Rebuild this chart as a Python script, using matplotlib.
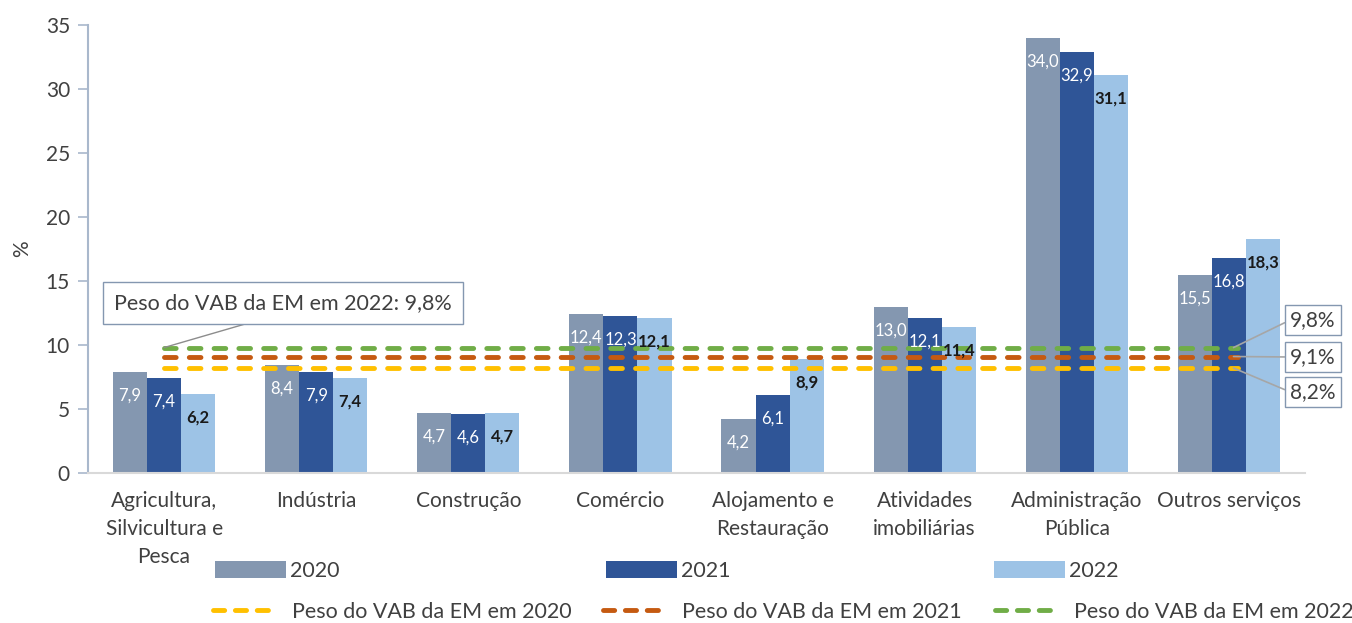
import matplotlib
matplotlib.use("Agg")
import matplotlib.pyplot as plt
from matplotlib.patches import Patch
from matplotlib.lines import Line2D
import numpy as np

plt.rcParams['font.family'] = ['Lato', 'DejaVu Sans']

categories = ["Agricultura,\nSilvicultura e\nPesca", "Indústria", "Construção", "Comércio",
              "Alojamento e\nRestauração", "Atividades\nimobiliárias", "Administração\nPública",
              "Outros serviços"]
v2020 = [7.9, 8.4, 4.7, 12.4, 4.2, 13.0, 34.0, 15.5]
v2021 = [7.4, 7.9, 4.6, 12.3, 6.1, 12.1, 32.9, 16.8]
v2022 = [6.2, 7.4, 4.7, 12.1, 8.9, 11.4, 31.1, 18.3]
series_labels = ["2020", "2021", "2022"]
peso = [8.2, 9.1, 9.8]
peso_labels = ["Peso do VAB da EM em 2020", "Peso do VAB da EM em 2021", "Peso do VAB da EM em 2022"]

bar_colors = ["#8497B0", "#2F5597", "#9DC3E6"]
label_colors = ["white", "white", "#1a1a1a"]
label_weights = ["normal", "normal", "bold"]
line_colors = ["#FFC000", "#C55A11", "#70AD47"]

W, H = 1352, 623
fig = plt.figure(figsize=(W / 100, H / 100), dpi=100)
ax = fig.add_axes([88 / W, 1 - 473 / H, (1305 - 88) / W, (473 - 25) / H])

x = np.arange(len(categories))
bw = 0.224
for i, (vals, c) in enumerate(zip([v2020, v2021, v2022], bar_colors)):
    xs = x + (i - 1) * bw
    ax.bar(xs, vals, width=bw, color=c, edgecolor='none', zorder=2)
    for xi, v in zip(xs, vals):
        ax.annotate(f"{v:.1f}".replace('.', ','), (xi, v), xytext=(0, -17),
                    textcoords='offset points', ha='center', va='center',
                    fontsize=12, color=label_colors[i], fontweight=label_weights[i], zorder=5)

for p, c in zip(peso, line_colors):
    ax.plot([x[0], x[-1] + 0.06], [p, p], color=c, lw=3.5, dashes=[2.4, 2.7],
            dash_capstyle='round', zorder=4)

ax.set_xlim(-0.5, len(categories) - 0.5)
ax.set_ylim(0, 35)
ax.set_yticks(range(0, 36, 5))
ax.set_xticks(x)
ax.set_xticklabels(categories, fontsize=15, color='#404040', linespacing=1.5)
ax.tick_params(axis='x', length=0, pad=13)
ax.tick_params(axis='y', length=7, width=1.2, color='#A9B8CC', labelsize=15,
               labelcolor='#404040', pad=6)
for s in ['top', 'right']:
    ax.spines[s].set_visible(False)
ax.spines['left'].set_color('#A9B8CC')
ax.spines['left'].set_linewidth(1.5)
ax.spines['bottom'].set_color('#D9D9D9')
ax.spines['bottom'].set_linewidth(1.5)
ax.set_ylabel('%', fontsize=15, color='#404040', labelpad=10)

# callout left
ax.annotate("Peso do VAB da EM em 2022: 9,8%", xy=(x[0], peso[2]),
            xytext=(283 / W, 1 - 303 / H), textcoords='figure fraction',
            ha='center', va='center', fontsize=15.5, color='#404040',
            bbox=dict(boxstyle='square,pad=0.5', fc='white', ec='#8497B0', lw=1),
            arrowprops=dict(arrowstyle='-', color='#8C8C8C', lw=1, relpos=(0.5, 0),
                            shrinkA=0, shrinkB=0), zorder=6)

# right callouts
right_pos = [392, 357, 320]
for p, yp in zip(peso, right_pos):
    ax.annotate(f"{p:.1f}%".replace('.', ','), xy=(x[-1] + 0.03, p),
                xytext=(1313 / W, 1 - yp / H), textcoords='figure fraction',
                ha='center', va='center', fontsize=15, color='#404040',
                bbox=dict(boxstyle='square,pad=0.25', fc='white', ec='#8497B0', lw=1),
                arrowprops=dict(arrowstyle='-', color='#A6A6A6', lw=1.2, relpos=(0, 0.5),
                                shrinkA=0, shrinkB=0), zorder=6, annotation_clip=False)

# legends
row1_x = [215, 606, 994]
for lab, c, lx in zip(series_labels, bar_colors, row1_x):
    fig.legend(handles=[Patch(facecolor=c, edgecolor='none')], labels=[lab],
               loc='center left', bbox_to_anchor=(lx / W, 1 - 571 / H), frameon=False,
               borderpad=0, borderaxespad=0, handlelength=3.3, handleheight=0.8,
               handletextpad=0.2, fontsize=15.5, labelcolor='#404040')
row2_x = [213, 603, 995]
for lab, c, lx in zip(peso_labels, line_colors, row2_x):
    fig.legend(handles=[Line2D([0], [0], color=c, lw=3.5, dashes=[2.3, 2.2],
                               dash_capstyle='round')], labels=[lab],
               loc='center left', bbox_to_anchor=(lx / W, 1 - 612 / H), frameon=False,
               borderpad=0, borderaxespad=0, handlelength=3.0,
               handletextpad=0.65, fontsize=15.5, labelcolor='#404040')

fig.savefig('out.png', dpi=100)
